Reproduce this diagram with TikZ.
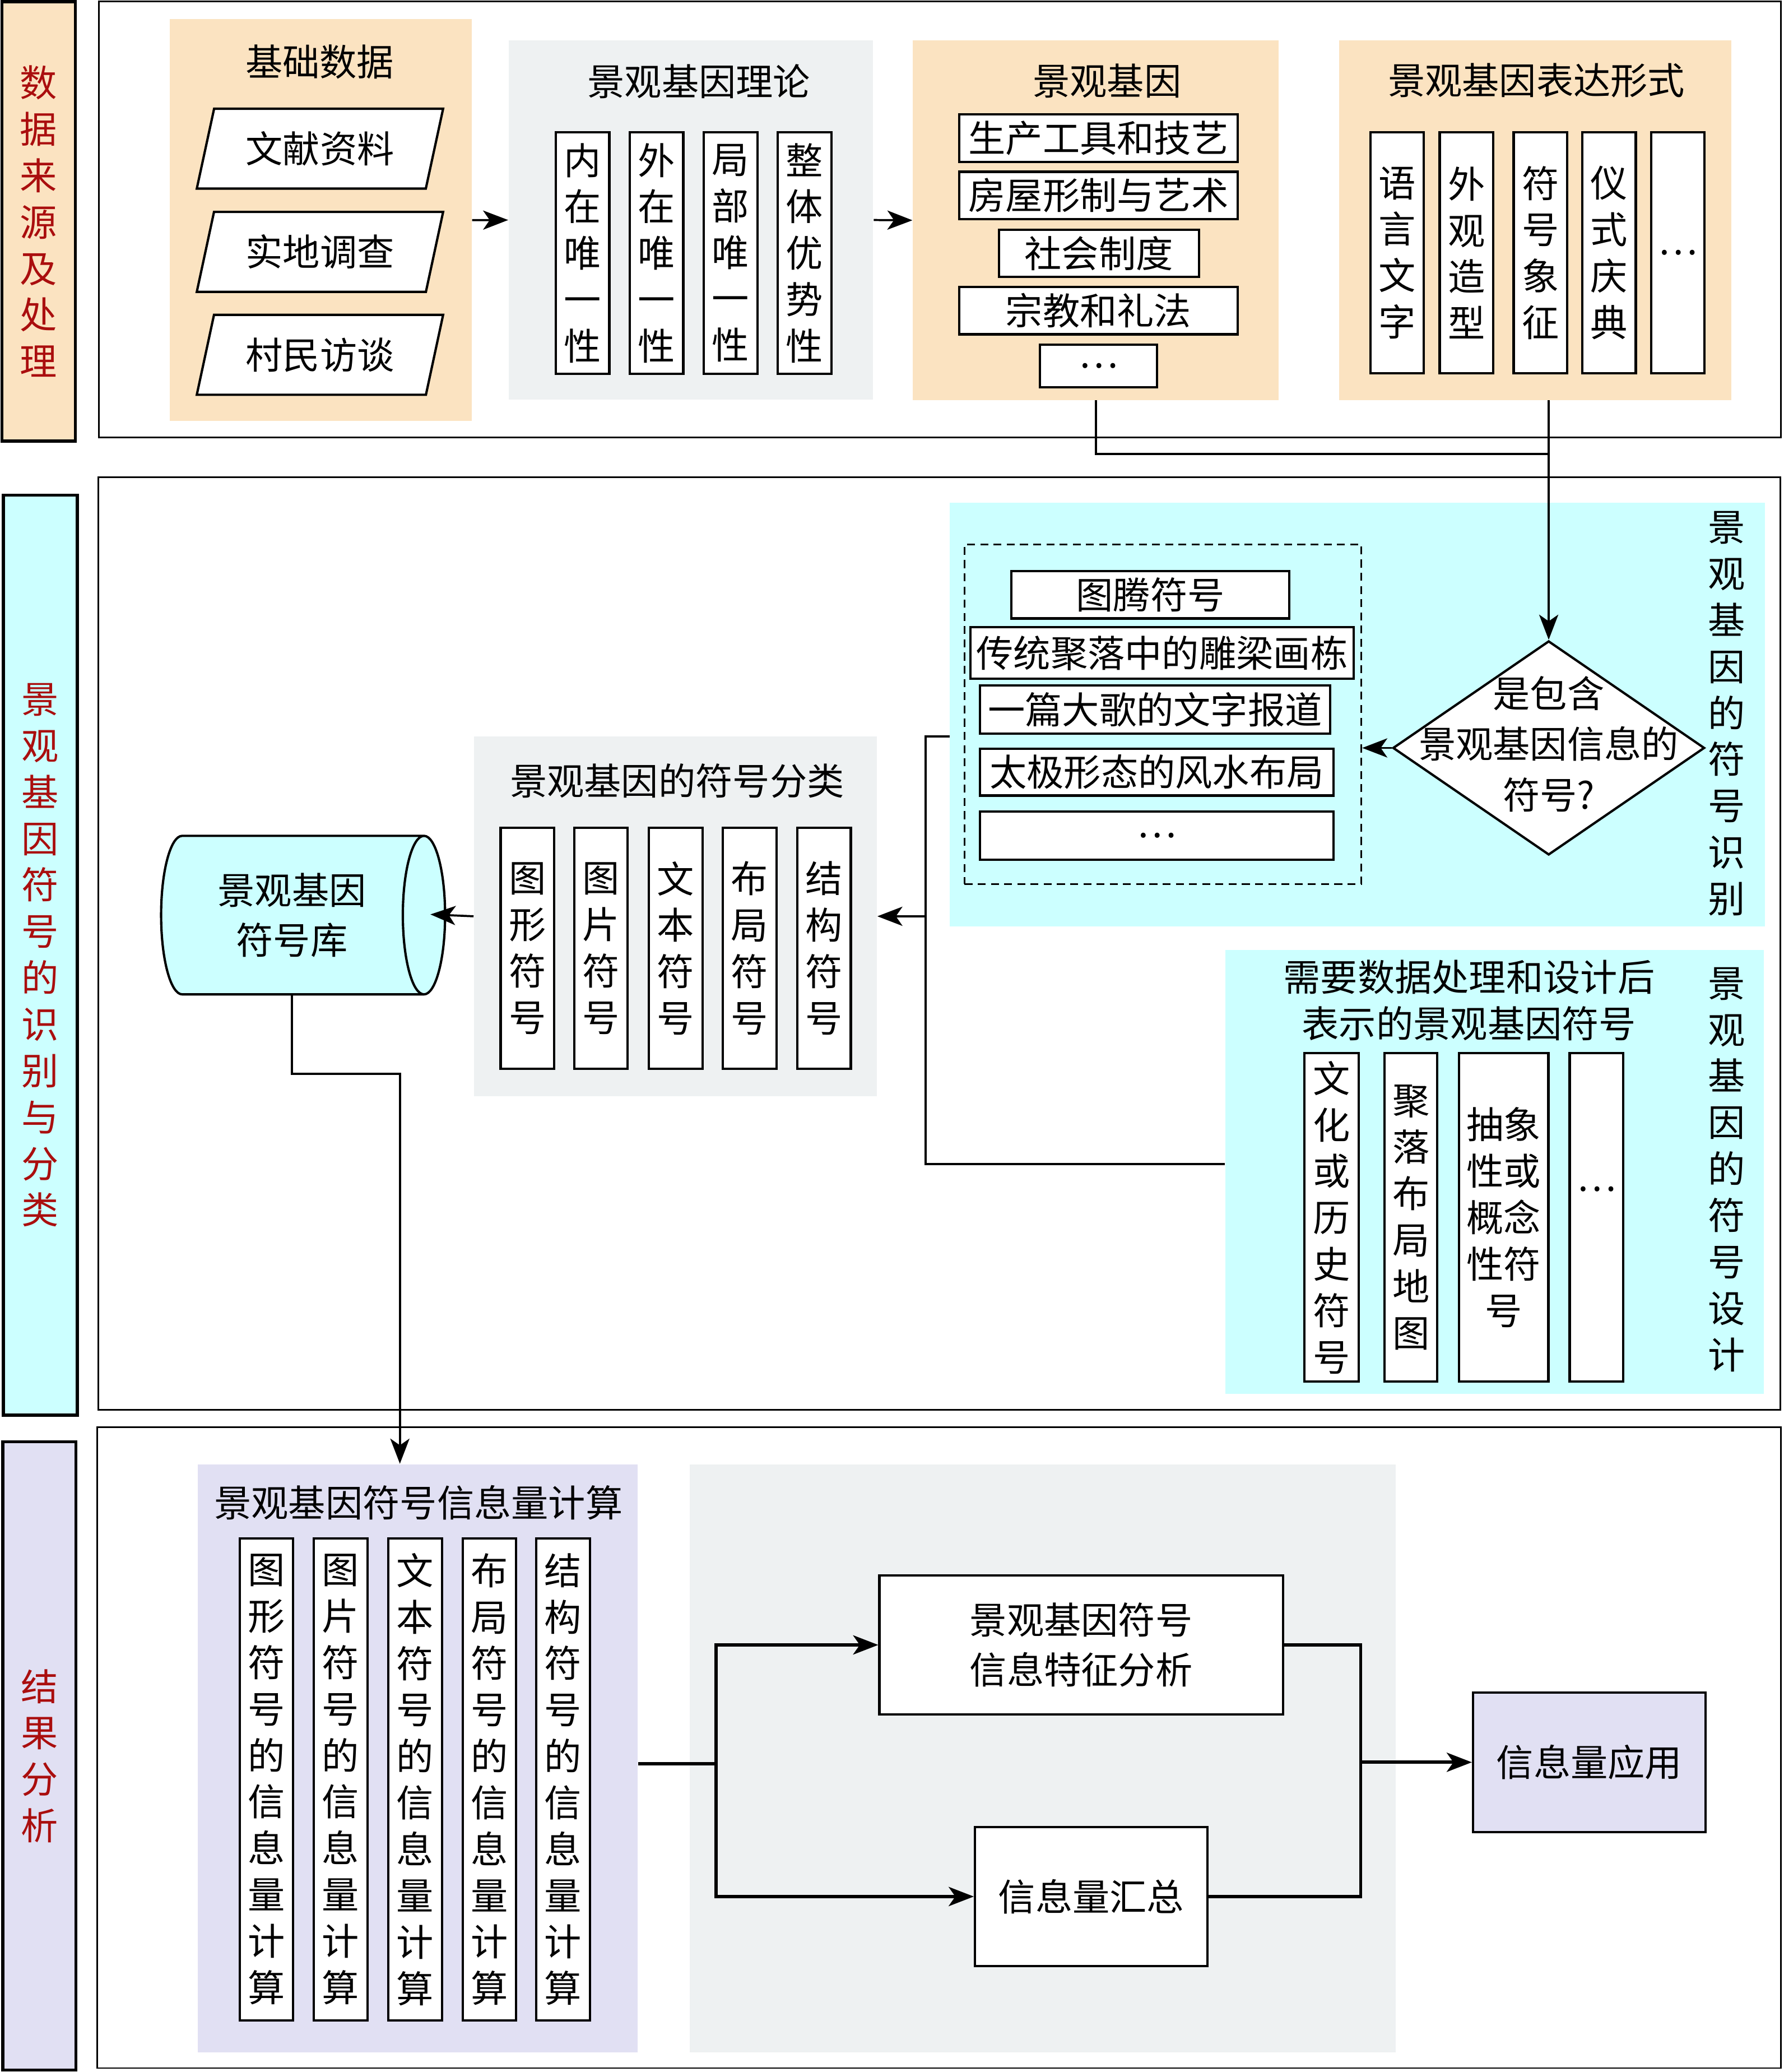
\documentclass[tikz,border=0pt]{standalone}
\usepackage{fontspec}
\setmainfont{Noto Sans CJK SC}
\usepackage{xcolor}
\definecolor{peach}{RGB}{251,227,193}
\definecolor{greyp}{RGB}{238,241,242}
\definecolor{cyanp}{RGB}{204,255,255}
\definecolor{lavp}{RGB}{225,224,243}
\definecolor{darkr}{RGB}{170,14,14}
\usepackage{tikz}
\usetikzlibrary{arrows.meta,positioning,shapes.geometric}
\tikzset{
  band/.style={rectangle, draw=black, line width=1.3pt, text=darkr, align=center, inner sep=0pt},
  frame/.style={draw=black, line width=0.7pt},
  panel/.style={rectangle, inner sep=0pt},
  vbox/.style={rectangle, draw=black, line width=1pt, fill=white, align=center, inner sep=0pt, minimum width=0.81cm, minimum height=3.65cm},
  cbox/.style={vbox, minimum height=7.3cm},
  dbox/.style={vbox, minimum height=4.97cm},
  hbox/.style={rectangle, draw=black, line width=1pt, fill=white, inner sep=0pt},
  para/.style={trapezium, trapezium left angle=63.4, trapezium right angle=116.6, trapezium stretches body,
    draw=black, line width=1pt, fill=white, inner sep=0pt, minimum width=3.73cm, minimum height=1.21cm},
  dmd/.style={diamond, draw=black, line width=1pt, fill=white, inner sep=0pt, minimum width=4.72cm, minimum height=3.24cm},
  lib/.style={cylinder, shape aspect=0.5, draw=black, line width=1pt, fill=cyanp, inner sep=0pt, align=center,
    minimum width=2.4cm, minimum height=4.3cm, font=\fontsize{16}{21.6}\selectfont},
  line/.style={draw, line width=0.9pt},
  arr/.style={line, -{Stealth[length=0.38cm,width=0.29cm,inset=0.1cm]}},
  bline/.style={draw, line width=1.4pt},
  barr/.style={bline, -{Stealth[length=0.38cm,width=0.29cm,inset=0.1cm]}},
}

\begin{document}
\begin{tikzpicture}[x=0.02cm, y=-0.02cm, font=\fontsize{16}{20}\selectfont]
  \useasboundingbox (0,0) rectangle (1350,1568);
  % left bands
  \node[band, fill=peach, minimum width=1.11cm, minimum height=6.65cm] (lab1) at (29.3,167.5) {数\\据\\来\\源\\及\\处\\理};
  \node[band, fill=cyanp, minimum width=1.12cm, minimum height=13.93cm] (lab2) at (30.5,722.8) {景\\观\\基\\因\\符\\号\\的\\识\\别\\与\\分\\类};
  \node[band, fill=lavp, minimum width=1.11cm, minimum height=9.51cm] (lab3) at (29.8,1328.8) {结\\果\\分\\析};
  \draw[frame] (75,1) rectangle (1348,331);
  \draw[frame] (74.5,361) rectangle (1347.5,1067);
  \draw[frame] (73.6,1080) rectangle (1348,1565);

  % data sources
  \node[panel, fill=peach, minimum width=4.57cm, minimum height=6.08cm] (base) at (242.8,166.6) {};
  \node (baset) at (242,47) {基础数据};
  \node[para] (wx) at (242.2,112.5) {文献资料};
  \node[para] (sd) at (242.2,190.6) {实地调查};
  \node[para] (cm) at (242.2,268.5) {村民访谈};

  \node[panel, fill=greyp, minimum width=5.52cm, minimum height=5.44cm] (theory) at (523,166.5) {};
  \node (theoryt) at (529,61.5) {景观基因理论};
  \node[vbox] (t1) at (441,191.5) {内\\在\\唯\\一\\性};
  \node[vbox] (t2) at (497,191.5) {外\\在\\唯\\一\\性};
  \node[vbox] (t3) at (553,191.5) {局\\部\\唯\\一\\性};
  \node[vbox] (t4) at (609,191.5) {整\\体\\优\\势\\性};

  \node[panel, fill=peach, minimum width=5.54cm, minimum height=5.44cm] (gene) at (829.5,166.7) {};
  \node (genet) at (838,61) {景观基因};
  \node[hbox, minimum width=4.22cm, minimum height=0.72cm] (g1) at (831.5,104.5) {生产工具和技艺};
  \node[hbox, minimum width=4.22cm, minimum height=0.72cm] (g2) at (831.5,148) {房屋形制与艺术};
  \node[hbox, minimum width=3.03cm, minimum height=0.71cm] (g3) at (831.8,191.8) {社会制度};
  \node[hbox, minimum width=4.22cm, minimum height=0.72cm] (g4) at (831.5,235) {宗教和礼法};
  \node[hbox, minimum width=1.78cm, minimum height=0.64cm] (g5) at (831.5,277) {…};

  \node[panel, fill=peach, minimum width=5.94cm, minimum height=5.44cm] (expr) at (1162.1,166.7) {};
  \node (exprt) at (1163,61) {景观基因表达形式};
  \node[vbox] (e1) at (1057.5,191.3) {语\\言\\文\\字};
  \node[vbox] (e2) at (1110,191.3) {外\\观\\造\\型};
  \node[vbox] (e3) at (1166,191.3) {符\\号\\象\\征};
  \node[vbox] (e4) at (1218,191.3) {仪\\式\\庆\\典};
  \node[vbox] (e5) at (1270,191.3) {…};

  \draw[arr] (base.east) -- (theory.west);
  \draw[arr] (theory.east) -- (gene.west);

  % identification
  \node[panel, fill=cyanp, minimum width=12.34cm, minimum height=6.41cm] (ident) at (1027.5,540.8) {};
  \node[align=center] (identt) at (1307,540) {景\\观\\基\\因\\的\\符\\号\\识\\别};
  \node[rectangle, draw=black, line width=0.7pt, dash pattern=on 0.12cm off 0.08cm, inner sep=0pt,
    minimum width=6.01cm, minimum height=5.14cm] (cand) at (880.3,540.4) {};
  \node[hbox, minimum width=4.21cm, minimum height=0.72cm] (s1) at (870.8,450) {图腾符号};
  \node[hbox, minimum width=5.8cm, minimum height=0.78cm] (s2) at (879.6,494.1) {传统聚落中的雕梁画栋};
  \node[hbox, minimum width=5.3cm, minimum height=0.73cm] (s3) at (874.3,536.9) {一篇大歌的文字报道};
  \node[hbox, minimum width=5.35cm, minimum height=0.71cm] (s4) at (875.6,584.3) {太极形态的风水布局};
  \node[hbox, minimum width=5.35cm, minimum height=0.73cm] (s5) at (875.6,632.3) {…};
  \node[dmd] (dia) at (1172.3,566) {};
  \node[align=center, font=\fontsize{16}{21.8}\selectfont] (diat) at (1172.3,563) {是包含\\景观基因信息的\\符号?};

  \coordinate (j1) at (1172.3,343.6);
  \draw[line] (gene.south) |- (j1);
  \draw[arr] (expr.south -| dia.north) -- (dia.north);
  \draw[arr] (dia.west) -- (dia.west -| cand.east);

  % classification
  \node[panel, fill=greyp, minimum width=6.1cm, minimum height=5.44cm] (classify) at (511.3,693.4) {};
  \node (classifyt) at (512.5,590.8) {景观基因的符号分类};
  \node[vbox] (k1) at (399.2,717.6) {图\\形\\符\\号};
  \node[vbox] (k2) at (454.9,717.6) {图\\片\\符\\号};
  \node[vbox] (k3) at (511.5,717.6) {文\\本\\符\\号};
  \node[vbox] (k4) at (567.5,717.6) {布\\局\\符\\号};
  \node[vbox] (k5) at (623.8,717.6) {结\\构\\符\\号};
  \node[lib] (store) at (221,692.5) {景观基因\\符号库};

  % design
  \node[panel, fill=cyanp, minimum width=8.15cm, minimum height=6.72cm] (design) at (1131.3,886.9) {};
  \node[align=center] (designt) at (1112,757) {需要数据处理和设计后\\表示的景观基因符号};
  \node[align=center] (designv) at (1307,885) {景\\观\\基\\因\\的\\符\\号\\设\\计};
  \node[dbox, minimum width=0.82cm] (d1) at (1008,921.3) {文\\化\\或\\历\\史\\符\\号};
  \node[dbox, minimum width=0.8cm] (d2) at (1068,921.3) {聚\\落\\布\\局\\地\\图};
  \node[dbox, minimum width=1.35cm] (d3) at (1138.3,921.3) {抽象\\性或\\概念\\性符\\号};
  \node[dbox] (d4) at (1208.4,921.3) {\raisebox{0.4cm}[0pt][0pt]{…}};

  \coordinate (bus) at (700.6,693.4);
  \draw[line] ([yshift=-0.33cm]ident.west) -| (bus) |- ([yshift=0.12cm]design.west);
  \draw[arr] (bus) -- (classify.east);
  \draw[arr, shorten >=-0.24cm] (classify.west) -- (store.east);

  % results
  \node[panel, fill=lavp, minimum width=6.66cm, minimum height=8.9cm] (calc) at (316.2,1330.5) {};
  \node (calct) at (316.8,1137) {景观基因符号信息量计算};
  \node[cbox] (c1) at (201.7,1346.5) {图\\形\\符\\号\\的\\信\\息\\量\\计\\算};
  \node[cbox] (c2) at (257.8,1346.5) {图\\片\\符\\号\\的\\信\\息\\量\\计\\算};
  \node[cbox] (c3) at (314.3,1346.5) {文\\本\\符\\号\\的\\信\\息\\量\\计\\算};
  \node[cbox] (c4) at (370.4,1346.5) {布\\局\\符\\号\\的\\信\\息\\量\\计\\算};
  \node[cbox] (c5) at (426.3,1346.5) {结\\构\\符\\号\\的\\信\\息\\量\\计\\算};

  \node[panel, fill=greyp, minimum width=10.69cm, minimum height=8.9cm] (analysis) at (789.3,1330.5) {};
  \node[hbox, align=center, minimum width=6.11cm, minimum height=2.11cm, font=\fontsize{16}{21.6}\selectfont] (feat) at (818.4,1244.8) {景观基因符号\\信息特征分析};
  \node[hbox, minimum width=3.52cm, minimum height=2.11cm] (sum) at (826,1435.2) {信息量汇总};
  \node[hbox, fill=lavp, minimum width=3.52cm, minimum height=2.11cm] (app) at (1203,1333.6) {信息量应用};

  \coordinate (bend) at (302.7,812.7);
  \draw[arr] (store.south) |- (bend) -- (bend |- calc.north);
  \coordinate (fork) at (542,1334.6);
  \coordinate (join) at (1030,1333.6);
  \draw[bline] (calc.east |- fork) -- (fork);
  \draw[barr] (fork) |- (feat.west);
  \draw[barr] (fork) |- (sum.west);
  \draw[bline] (feat.east) -| (join);
  \draw[bline] (sum.east) -| (join);
  \draw[barr] (join) -- (app.west);
\end{tikzpicture}
\end{document}
